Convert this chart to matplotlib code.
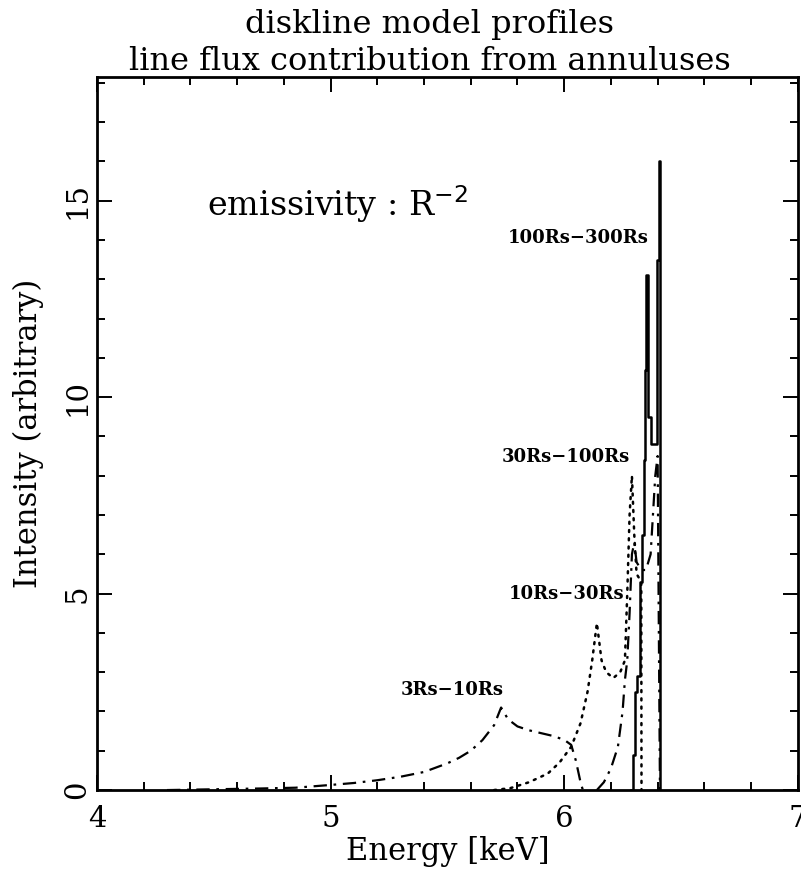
import numpy as np
import matplotlib
matplotlib.use("Agg")
import matplotlib.pyplot as plt

# annulus 3Rs-10Rs
e_3_10 = [4.30, 4.50, 4.70, 4.85, 5.00, 5.10, 5.20, 5.30, 5.40, 5.50, 5.55,
          5.60, 5.65, 5.70, 5.73, 5.76, 5.80, 5.85, 5.90, 5.95, 6.00, 6.03,
          6.05, 6.07, 6.08]
i_3_10 = [0.0, 0.02, 0.04, 0.06, 0.13, 0.18, 0.25, 0.34, 0.46, 0.68, 0.82,
          1.0, 1.27, 1.65, 2.1, 1.8, 1.62, 1.52, 1.45, 1.38, 1.28, 1.15,
          0.75, 0.2, 0.0]

# annulus 10Rs-30Rs
e_10_30 = [5.70, 5.77, 5.85, 5.93, 5.98, 6.03, 6.07, 6.10, 6.12, 6.14, 6.16,
           6.18, 6.21, 6.24, 6.26, 6.27, 6.28, 6.29, 6.30, 6.31, 6.33, 6.331]
i_10_30 = [0.0, 0.05, 0.2, 0.42, 0.7, 1.1, 1.7, 2.5, 3.3, 4.25, 3.3,
           3.0, 2.85, 3.0, 3.3, 5.0, 7.0, 8.0, 6.5, 5.5, 5.3, 0.0]

# annulus 30Rs-100Rs
e_30_100 = [6.14, 6.17, 6.20, 6.23, 6.25, 6.26, 6.27, 6.28, 6.29, 6.30, 6.31,
            6.33, 6.35, 6.37, 6.38, 6.39, 6.40, 6.41]
i_30_100 = [0.0, 0.2, 0.55, 1.1, 2.0, 2.8, 3.3, 4.5, 6.0, 6.3, 5.8,
            5.6, 5.6, 6.0, 7.0, 8.0, 8.5, 0.0]

# annulus 100Rs-300Rs (histogram)
e_100_300 = [6.285, 6.293, 6.305, 6.313, 6.323, 6.331, 6.340, 6.345, 6.350,
             6.358, 6.370, 6.386, 6.396, 6.404, 6.412]
i_100_300 = [0.0, 0.9, 2.5, 2.9, 5.3, 6.5, 8.4, 10.7, 13.1,
             9.5, 8.8, 8.8, 13.5, 16.0, 0.0]

labels = ["3Rs\u221210Rs", "10Rs\u221230Rs", "30Rs\u2212100Rs", "100Rs\u2212300Rs"]
label_x = [5.74, 6.257, 6.283, 6.36]
label_y = [2.54, 4.99, 8.47, 14.05]

plt.rcParams["font.family"] = ["DejaVu Serif"]

fig = plt.figure(figsize=(8.01, 8.73), dpi=100)
ax = fig.add_axes([0.121, 0.095, 0.875, 0.817])

dashdot = (0, (6, 3, 1.2, 3))
ax.plot(e_3_10, i_3_10, color="black", lw=1.6, linestyle=dashdot)
ax.plot(e_10_30, i_10_30, color="black", lw=1.8, linestyle=(0, (0.8, 2.5)),
        dash_capstyle="round")
ax.plot(e_30_100, i_30_100, color="black", lw=1.6, linestyle=dashdot)
ax.plot(e_100_300, i_100_300, color="black", lw=1.8, drawstyle="steps-post")

for txt, x, y in zip(labels, label_x, label_y):
    ax.text(x, y, txt, ha="right", va="center", fontsize=13, fontweight="bold")

ax.text(4.47, 14.9, r"emissivity : R$^{-2}$", ha="left", va="center", fontsize=24)

ax.set_xlim(4, 7)
ax.set_ylim(0, 18.15)
ax.set_xticks([4, 5, 6, 7])
ax.set_xticks(np.arange(4, 7.01, 0.2), minor=True)
ax.set_yticks([0, 5, 10, 15])
ax.set_yticks(np.arange(0, 18.1, 1), minor=True)
ax.tick_params(which="both", direction="in", top=True, right=True, width=1.4,
               labelsize=21)
ax.tick_params(which="major", length=11)
ax.tick_params(which="minor", length=6)
ax.tick_params(axis="x", which="major", pad=11)
ax.tick_params(axis="y", which="major", pad=4)
for lab in ax.get_yticklabels():
    lab.set_rotation(90)
    lab.set_va("center")
for sp in ax.spines.values():
    sp.set_linewidth(2.0)

ax.set_xlabel("Energy [keV]", fontsize=22, labelpad=2)
ax.set_ylabel("Intensity (arbitrary)", fontsize=22, labelpad=14)
ax.set_title("diskline model profiles\nline flux contribution from annuluses",
             fontsize=23, linespacing=1.25, pad=5, x=0.475)

fig.savefig("out.png", dpi=100)
plt.close(fig)
